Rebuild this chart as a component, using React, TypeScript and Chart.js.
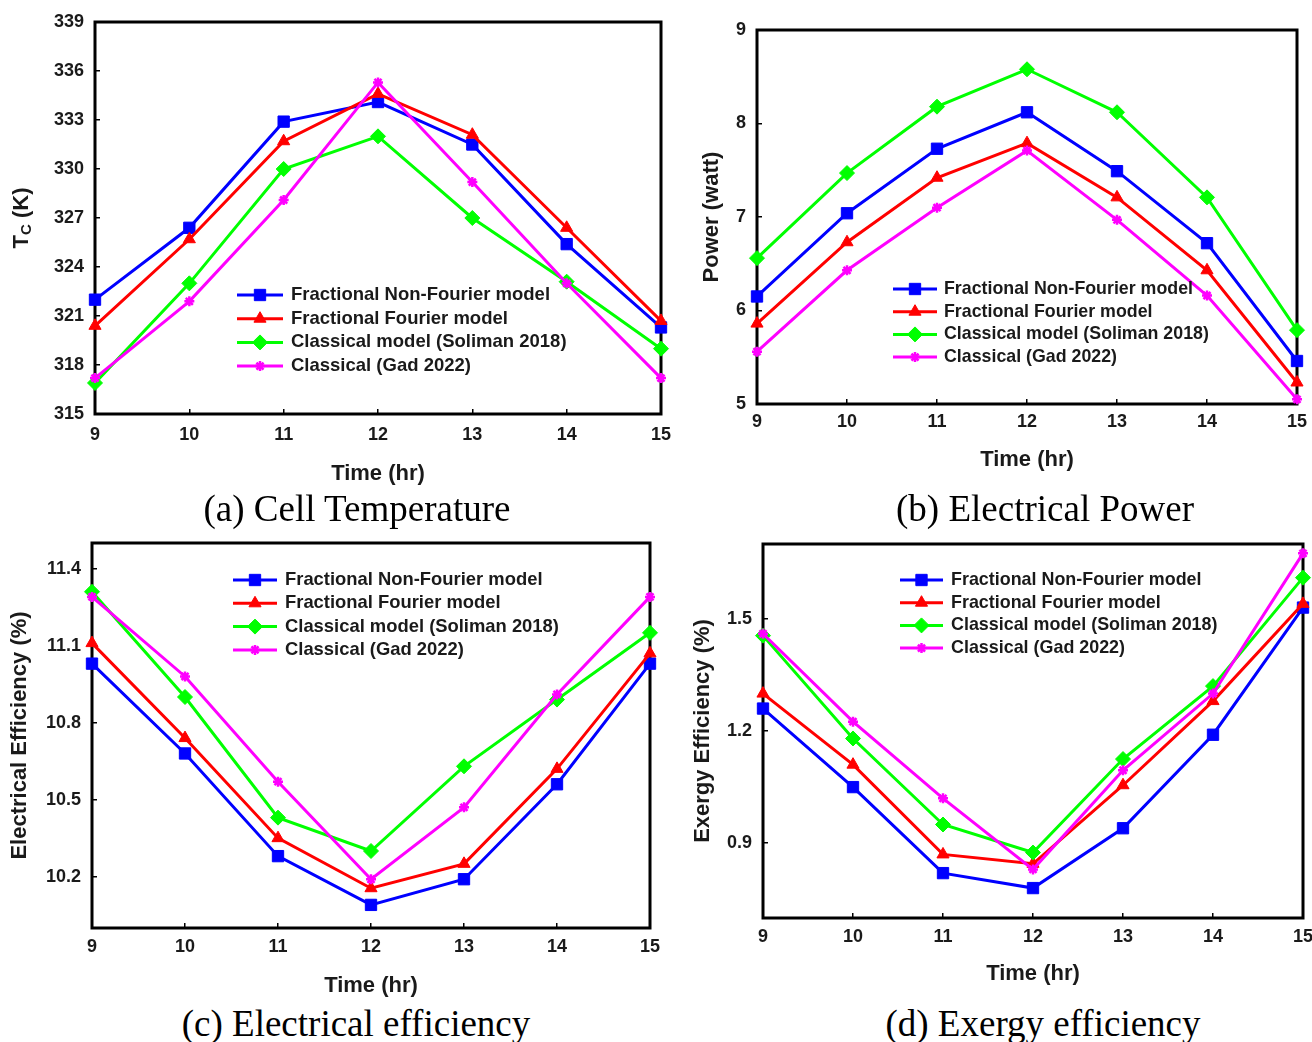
import React, { useEffect, useRef } from 'react';
import { Chart, registerables } from 'chart.js';
import { drawPoint } from 'chart.js/helpers';

Chart.register(...registerables);

const FONT = 'Arial, "Liberation Sans", Helvetica, sans-serif';
const TEXT = '#1a1a1a';

// ---------- data ----------
const hours = ['9', '10', '11', '12', '13', '14', '15'];
const seriesNames = [
  'Fractional Non-Fourier model',
  'Fractional Fourier model',
  'Classical model (Soliman 2018)',
  'Classical (Gad 2022)',
];
const seriesColors = ['#0000ff', '#ff0000', '#00ff00', '#ff00ff'];
const seriesMarkers = ['rect', 'triangle', 'rectRot', 'star'];
const markerRadius = [8, 7, 7.5, 5];

// (a) cell temperature (K)
const tcNonFourier = [322.0, 326.4, 332.9, 334.1, 331.5, 325.4, 320.3];
const tcFourier = [320.4, 325.7, 331.7, 334.6, 332.1, 326.4, 320.7];
const tcSoliman = [316.9, 323.0, 330.0, 332.0, 327.0, 323.1, 319.0];
const tcGad = [317.2, 321.9, 328.1, 335.3, 329.2, 323.0, 317.2];
const tcTicks = [315, 318, 321, 324, 327, 330, 333, 336, 339];

// (b) electrical power (W)
const powerNonFourier = [6.15, 7.04, 7.73, 8.12, 7.49, 6.72, 5.46];
const powerFourier = [5.86, 6.73, 7.42, 7.79, 7.21, 6.43, 5.23];
const powerSoliman = [6.56, 7.47, 8.18, 8.58, 8.12, 7.21, 5.79];
const powerGad = [5.56, 6.43, 7.1, 7.71, 6.97, 6.16, 5.05];
const powerTicks = [5, 6, 7, 8, 9];

// (c) electrical efficiency (%)
const elecNonFourier = [11.03, 10.68, 10.28, 10.09, 10.19, 10.56, 11.03];
const elecFourier = [11.11, 10.74, 10.35, 10.155, 10.25, 10.62, 11.07];
const elecSoliman = [11.31, 10.9, 10.43, 10.3, 10.63, 10.89, 11.15];
const elecGad = [11.29, 10.98, 10.57, 10.19, 10.47, 10.91, 11.29];
const elecTicks = [10.2, 10.5, 10.8, 11.1, 11.4];

// (d) exergy efficiency (%)
const exNonFourier = [1.26, 1.05, 0.82, 0.78, 0.94, 1.19, 1.53];
const exFourier = [1.3, 1.11, 0.87, 0.845, 1.055, 1.28, 1.54];
const exSoliman = [1.455, 1.18, 0.95, 0.875, 1.125, 1.32, 1.61];
const exGad = [1.46, 1.225, 1.02, 0.83, 1.095, 1.3, 1.675];
const exTicks = [0.9, 1.2, 1.5];

// ---------- layout ----------
type Panel = {
  left: number; top: number; width: number; height: number;
  padTop: number; padRight: number; yAxisW: number; xAxisH: number;
  xTickPad: number; yTickPad: number; xTitlePad: number; yTitlePad: number;
  min: number; max: number; ticks: number[]; decimals: number;
  yTitle: string | null; subTitle?: { x: number; main: string; sub: string; rest: string };
  values: number[][];
  legend: { dx: number; dy: number; gap: number; lineLen: number; textDx: number; fontSize: number };
};

const panels: Panel[] = [
  {
    left: 0, top: 0, width: 680, height: 490,
    padTop: 22, padRight: 19, yAxisW: 95, xAxisH: 76,
    xTickPad: 15.2, yTickPad: 16, xTitlePad: 2.8, yTitlePad: 8.8,
    min: 315, max: 339, ticks: tcTicks, decimals: 0,
    yTitle: null, subTitle: { x: 22, main: 'T', sub: 'C', rest: ' (K)' },
    values: [tcNonFourier, tcFourier, tcSoliman, tcGad],
    legend: { dx: 142, dy: 273, gap: 23.7, lineLen: 46, textDx: 54, fontSize: 18.5 },
  },
  {
    left: 680, top: 0, width: 632, height: 490,
    padTop: 30, padRight: 15, yAxisW: 77, xAxisH: 86,
    xTickPad: 12.2, yTickPad: 16, xTitlePad: 16.8, yTitlePad: 18.8,
    min: 5, max: 9, ticks: powerTicks, decimals: 0,
    yTitle: 'Power (watt)',
    values: [powerNonFourier, powerFourier, powerSoliman, powerGad],
    legend: { dx: 136, dy: 259, gap: 22.7, lineLen: 44, textDx: 51, fontSize: 17.8 },
  },
  {
    left: 0, top: 530, width: 680, height: 470,
    padTop: 13, padRight: 30, yAxisW: 92, xAxisH: 72,
    xTickPad: 13.2, yTickPad: 16, xTitlePad: 0.8, yTitlePad: 6.8,
    min: 10.0, max: 11.5, ticks: elecTicks, decimals: 1,
    yTitle: 'Electrical Efficiency (%)',
    values: [elecNonFourier, elecFourier, elecSoliman, elecGad],
    legend: { dx: 141, dy: 37, gap: 23.3, lineLen: 44, textDx: 52, fontSize: 18.4 },
  },
  {
    left: 680, top: 530, width: 632, height: 470,
    padTop: 14, padRight: 8, yAxisW: 83, xAxisH: 82,
    xTickPad: 13.2, yTickPad: 16, xTitlePad: 12.8, yTitlePad: 9.8,
    min: 0.7, max: 1.7, ticks: exTicks, decimals: 1,
    yTitle: 'Exergy Efficiency (%)',
    values: [exNonFourier, exFourier, exSoliman, exGad],
    legend: { dx: 137, dy: 36, gap: 22.7, lineLen: 43, textDx: 51, fontSize: 17.9 },
  },
];

const captions = [
  { text: '(a) Cell Temperature', cx: 357, cy: 509 },
  { text: '(b) Electrical Power', cx: 1045, cy: 509 },
  { text: '(c) Electrical efficiency', cx: 356, cy: 1024 },
  { text: '(d) Exergy efficiency', cx: 1043, cy: 1024 },
];

// ---------- plugin: frame, inner legend, subscript title ----------
const decorPlugin = {
  id: 'panelDecor',
  beforeDatasetsDraw(chart: any) {
    const { ctx, chartArea: a } = chart;
    ctx.save();
    ctx.strokeStyle = '#000';
    ctx.lineWidth = 3;
    ctx.strokeRect(a.left, a.top, a.right - a.left, a.bottom - a.top);
    ctx.restore();
  },
  afterDatasetsDraw(chart: any, _args: any, opts: any) {
    const { ctx, chartArea: a } = chart;
    const lg = opts.legend;
    if (lg) {
      chart.data.datasets.forEach((ds: any, i: number) => {
        const y = a.top + lg.dy + i * lg.gap;
        const x0 = a.left + lg.dx;
        ctx.save();
        ctx.strokeStyle = ds.borderColor;
        ctx.lineWidth = ds.borderWidth;
        ctx.beginPath();
        ctx.moveTo(x0, y);
        ctx.lineTo(x0 + lg.lineLen, y);
        ctx.stroke();
        ctx.fillStyle = ds.pointBackgroundColor;
        ctx.strokeStyle = ds.pointBorderColor;
        ctx.lineWidth = ds.pointBorderWidth;
        drawPoint(ctx, {
          pointStyle: ds.pointStyle,
          rotation: 0,
          radius: ds.pointRadius,
          borderWidth: ds.pointBorderWidth,
        } as any, x0 + lg.lineLen / 2, y);
        ctx.fillStyle = TEXT;
        ctx.font = `bold ${lg.fontSize}px ${FONT}`;
        ctx.textBaseline = 'middle';
        ctx.textAlign = 'left';
        ctx.fillText(ds.label, x0 + lg.textDx, y);
        ctx.restore();
      });
    }
  },
  afterDraw(chart: any, _args: any, opts: any) {
    const st = opts.subTitle;
    if (!st) return;
    const { ctx, chartArea: a } = chart;
    const cy = (a.top + a.bottom) / 2;
    ctx.save();
    ctx.translate(st.x, cy);
    ctx.rotate(-Math.PI / 2);
    ctx.fillStyle = TEXT;
    ctx.textBaseline = 'middle';
    ctx.textAlign = 'left';
    const big = `bold 22px ${FONT}`;
    const small = `bold 15px ${FONT}`;
    ctx.font = big;
    const wMain = ctx.measureText(st.main).width;
    const wRest = ctx.measureText(st.rest).width;
    ctx.font = small;
    const wSub = ctx.measureText(st.sub).width;
    const total = wMain + wSub + wRest;
    let x = -total / 2;
    ctx.font = big;
    ctx.fillText(st.main, x, 0);
    x += wMain;
    ctx.font = small;
    ctx.fillText(st.sub, x, 5);
    x += wSub;
    ctx.font = big;
    ctx.fillText(st.rest, x, 0);
    ctx.restore();
  },
};

function PanelChart({ p }: { p: Panel }) {
  const ref = useRef<HTMLCanvasElement | null>(null);
  useEffect(() => {
    if (!ref.current) return;
    const tickFont = { family: FONT, size: 18, weight: 'bold' as const };
    const titleFont = { family: FONT, size: 22, weight: 'bold' as const };
    const gridCfg = {
      display: true,
      drawOnChartArea: false,
      drawTicks: true,
      tickLength: -5,
      color: '#000',
      lineWidth: 1.5,
    };
    const chart = new Chart(ref.current, {
      type: 'line',
      data: {
        labels: hours,
        datasets: p.values.map((vals, i) => ({
          label: seriesNames[i],
          data: vals,
          borderColor: seriesColors[i],
          backgroundColor: seriesColors[i],
          borderWidth: 3,
          pointStyle: seriesMarkers[i] as any,
          pointRadius: markerRadius[i],
          pointBackgroundColor: seriesColors[i],
          pointBorderColor: seriesColors[i],
          pointBorderWidth: i === 3 ? 2.5 : 1,
          tension: 0,
          clip: false as any,
          order: 4 - i,
        })),
      },
      options: {
        responsive: false,
        animation: false,
        devicePixelRatio: 1,
        layout: { padding: { left: 0, top: p.padTop, right: p.padRight, bottom: 0 } },
        plugins: {
          legend: { display: false },
          tooltip: { enabled: false },
          panelDecor: { legend: p.legend, subTitle: p.subTitle || null },
        } as any,
        scales: {
          x: {
            type: 'category',
            offset: false,
            grid: gridCfg as any,
            border: { display: false },
            ticks: { padding: p.xTickPad, color: TEXT, font: tickFont, maxRotation: 0, autoSkip: false },
            title: {
              display: true, text: 'Time (hr)', color: TEXT, font: titleFont,
              padding: { top: 0, bottom: p.xTitlePad },
            },
            afterFit: (s: any) => { s.height = p.xAxisH; s.paddingLeft = 0; s.paddingRight = 0; },
          },
          y: {
            type: 'linear',
            min: p.min,
            max: p.max,
            grid: gridCfg as any,
            border: { display: false },
            ticks: {
              padding: p.yTickPad, color: TEXT, font: tickFont,
              callback: (v: any) => Number(v).toFixed(p.decimals),
            },
            afterBuildTicks: (s: any) => { s.ticks = p.ticks.map((v) => ({ value: v })); },
            title: {
              display: !!p.yTitle, text: p.yTitle || '', color: TEXT, font: titleFont,
              padding: { top: p.yTitlePad, bottom: 0 },
            },
            afterFit: (s: any) => { s.width = p.yAxisW; s.paddingTop = 0; s.paddingBottom = 0; },
          },
        },
      },
      plugins: [decorPlugin as any],
    });
    return () => chart.destroy();
  }, [p]);
  return (
    <canvas
      ref={ref}
      width={p.width}
      height={p.height}
      style={{ position: 'absolute', left: p.left, top: p.top, width: p.width, height: p.height, display: 'block' }}
    />
  );
}

export default function App() {
  return (
    <div
      style={{
        position: 'absolute', left: 0, top: 0, width: 1312, height: 1042,
        overflow: 'hidden', background: '#fff',
      }}
    >
      {panels.map((p, i) => (
        <PanelChart key={i} p={p} />
      ))}
      {captions.map((c, i) => (
        <div
          key={'c' + i}
          style={{
            position: 'absolute', left: c.cx - 320, width: 640, top: c.cy - 22, height: 44,
            lineHeight: '44px', textAlign: 'center', color: '#000',
            fontFamily: '"Times New Roman", "Liberation Serif", serif', fontSize: 37,
            whiteSpace: 'nowrap',
          }}
        >
          {c.text}
        </div>
      ))}
    </div>
  );
}
